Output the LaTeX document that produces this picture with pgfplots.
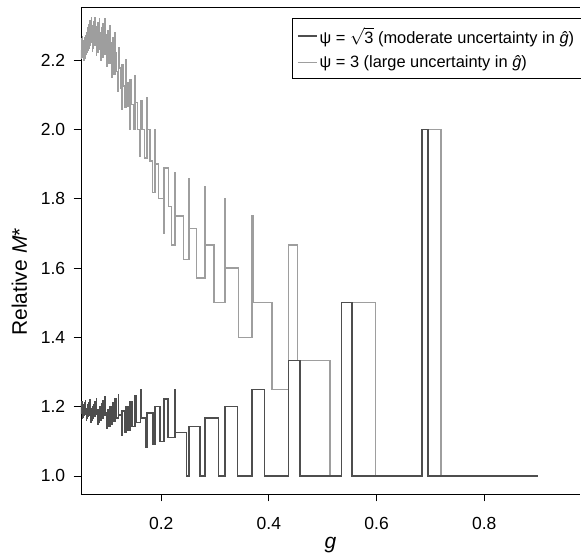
\documentclass[border=0pt]{standalone}
\usepackage{fontspec}
\setmainfont{Liberation Sans}
\usepackage{pgfplots}
\pgfplotsset{compat=1.18}
\definecolor{darkline}{RGB}{78,78,78}
\definecolor{lightline}{RGB}{158,158,158}
\begin{document}
\begin{tikzpicture}
\path[use as bounding box] (-81pt,-62pt) rectangle (500pt,494pt);
\begin{axis}[
  at={(0pt,0pt)}, anchor=south west,
  scale only axis, width=499pt, height=487pt,
  xmin=0.0511, xmax=0.9777, ymin=0.948, ymax=2.353,
  axis x line*=box, axis y line*=left,
  tick pos=left,
  xtick={0.2,0.4,0.6,0.8}, xticklabels={0.2,0.4,0.6,0.8},
  ytick={1,1.2,1.4,1.6,1.8,2,2.2}, yticklabels={1.0,1.2,1.4,1.6,1.8,2.0,2.2},
  tick align=outside, major tick length=7.3pt,
  every tick/.style={black, line width=0.9pt},
  axis line style={black, line width=0.9pt},
  tick label style={font=\fontsize{17.5}{20}\selectfont},
  xticklabel style={anchor=north, yshift=-12pt},
  yticklabel style={anchor=east, xshift=-5pt},
  xlabel={\textit{g}},
  label style={font=\fontsize{21}{24}\selectfont},
  xlabel style={at={(axis description cs:0.5,0)}, anchor=base, yshift=-55pt},
  legend style={at={(axis description cs:1.003,0.977)}, anchor=north east,
    draw=black, line width=0.8pt, fill=white,
    font=\fontsize{16.4}{19}\selectfont, inner xsep=5pt, inner ysep=7pt,
    row sep=7pt},
  legend cell align=left,
  legend image code/.code={\draw[#1] (0pt,0pt) -- (19pt,0pt);},
  reverse legend,
]
% psi = 3 (drawn first, underneath)
\addplot[const plot, color=lightline, line width=1.5pt] coordinates {
(0.051,2.2273) (0.05129,2.2045) (0.05174,2.2558) (0.05184,2.2326) (0.05240,2.2093)
(0.05290,2.2619) (0.05297,2.2381) (0.05356,2.2143) (0.05411,2.2683) (0.05416,2.2439)
(0.05477,2.2195) (0.05539,2.25) (0.05603,2.225) (0.05669,2.2) (0.05672,2.2564)
(0.05736,2.2308) (0.05805,2.2051) (0.05812,2.2632) (0.05875,2.2368) (0.05947,2.2105)
(0.05959,2.2703) (0.06021,2.2432) (0.06097,2.2162) (0.06113,2.2778) (0.06175,2.25)
(0.06254,2.2222) (0.06276,2.2857) (0.06336,2.2571) (0.06420,2.2286) (0.06448,2.2941)
(0.06507,2.2647) (0.06595,2.2353) (0.06629,2.3030) (0.06686,2.2727) (0.06780,2.2424)
(0.06821,2.3125) (0.06864,2.2813) (0.06950,2.25) (0.07024,2.3226) (0.07039,2.2903)
(0.07130,2.2581) (0.07223,2.2258) (0.07240,2.3) (0.07319,2.2667) (0.07417,2.2333)
(0.07469,2.3103) (0.07518,2.2759) (0.07622,2.2414) (0.07714,2.3214) (0.07729,2.2857)
(0.07839,2.25) (0.07951,2.2143) (0.07975,2.2963) (0.08068,2.2593) (0.08187,2.2222)
(0.08254,2.3077) (0.08311,2.2692) (0.08438,2.2308) (0.08554,2.32) (0.08569,2.28)
(0.08700,2.24) (0.08826,2.2) (0.08876,2.2917) (0.08955,2.25) (0.09089,2.2083)
(0.09223,2.3043) (0.09226,2.2609) (0.09514,2.2174) (0.09599,2.3182) (0.09665,2.2727)
(0.09820,2.2273) (0.09981,2.1818) (0.10006,2.2857) (0.10147,2.2381) (0.10319,2.1905)
(0.10450,2.3) (0.10496,2.25) (0.10680,2.2) (0.10870,2.15) (0.10935,2.2632)
(0.11067,2.2105) (0.11272,2.1579) (0.11467,2.2778) (0.11484,2.2222) (0.11705,2.1667)
(0.11933,2.1111) (0.12053,2.2353) (0.12172,2.1765) (0.12419,2.1176) (0.12677,2.0588)
(0.12703,2.1875) (0.12947,2.125) (0.13227,2.0625) (0.13427,2.2) (0.13520,2.1333)
(0.13827,2.0667) (0.14148,2.0) (0.14238,2.1429) (0.14484,2.0714) (0.14836,2.0)
(0.15153,2.1538) (0.15206,2.0769) (0.15594,2.0) (0.16003,1.9231) (0.16195,2.0833)
(0.16435,2.0) (0.16890,1.9167) (0.1735,2.0909) (0.17371,2.0) (0.17880,1.9091)
(0.1842,1.8182) (0.1883,2.0) (0.1886,1.9) (0.1946,1.8) (0.2053,1.7)
(0.2055,1.8889) (0.2132,1.7778) (0.2195,1.6667) (0.2256,1.875) (0.2258,1.75)
(0.241,1.625) (0.2515,1.8571) (0.2522,1.7143) (0.2659,1.5714) (0.2815,1.8333)
(0.2818,1.6667) (0.2981,1.5) (0.3185,1.8) (0.3195,1.6) (0.3432,1.4)
(0.369,1.75) (0.371,1.5) (0.406,1.25) (0.436,1.6667) (0.4527,1.3333)
(0.5135,1) (0.535,1.5) (0.598,1) (0.684,2) (0.7196,1) (0.9,1)
};
\addlegendentry{ψ = 3 (large uncertainty in \textit{ĝ})}
% psi = sqrt(3)
\addplot[const plot, color=darkline, line width=1.5pt] coordinates {
(0.051,1.2045) (0.05117,1.1818) (0.05174,1.2093) (0.05211,1.1860) (0.05290,1.2143)
(0.05309,1.1905) (0.05410,1.1667) (0.05411,1.1951) (0.05515,1.1707) (0.05539,1.2)
(0.05624,1.175) (0.05672,1.2051) (0.05738,1.1795) (0.05812,1.2105) (0.05856,1.1842)
(0.05959,1.2162) (0.05979,1.1892) (0.06108,1.1622) (0.06113,1.1944) (0.06242,1.1667)
(0.06276,1.2) (0.06382,1.1714) (0.06448,1.2059) (0.06529,1.1765) (0.06629,1.2121)
(0.06682,1.1818) (0.06821,1.2188) (0.06843,1.1875) (0.07012,1.1563) (0.07024,1.1935)
(0.07190,1.1613) (0.07240,1.2) (0.07376,1.1667) (0.07469,1.2069) (0.07573,1.1724)
(0.07714,1.2143) (0.07780,1.1786) (0.07975,1.2222) (0.07999,1.1852) (0.08231,1.1481)
(0.08254,1.1923) (0.08477,1.1538) (0.08554,1.2) (0.08737,1.16) (0.08876,1.2083)
(0.09015,1.1667) (0.09223,1.2174) (0.09310,1.1739) (0.09599,1.2273) (0.09626,1.1818)
(0.09963,1.1364) (0.10006,1.1905) (0.10325,1.1429) (0.10450,1.2) (0.10715,1.15)
(0.10935,1.2105) (0.11135,1.1579) (0.11467,1.2222) (0.11589,1.1667) (0.12053,1.2353)
(0.12082,1.1765) (0.12618,1.1176) (0.12703,1.1875) (0.13205,1.125) (0.13427,1.2)
(0.13848,1.1333) (0.14238,1.2143) (0.14558,1.1429) (0.15153,1.2308) (0.15344,1.1538)
(0.16195,1.25) (0.16221,1.1667) (0.1705,1.0833) (0.1735,1.1818) (0.1850,1.0909)
(0.1883,1.2) (0.1975,1.1) (0.2055,1.2222) (0.2125,1.1111) (0.2256,1.25)
(0.2270,1.125) (0.2474,1) (0.2515,1.1429) (0.272,1) (0.2815,1.1667)
(0.306,1) (0.3185,1.2) (0.342,1) (0.369,1.25) (0.3915,1)
(0.436,1.3333) (0.458,1) (0.535,1.5) (0.554,1) (0.684,2) (0.695,1) (0.9,1)
};
\addlegendentry{ψ = $\sqrt{\mbox{3}}$ (moderate uncertainty in \textit{ĝ})}
\end{axis}
\node[rotate=90, anchor=base, font=\fontsize{21}{24}\selectfont] at (-54pt,212pt) {Relative \textit{M}*};
\end{tikzpicture}
\end{document}
